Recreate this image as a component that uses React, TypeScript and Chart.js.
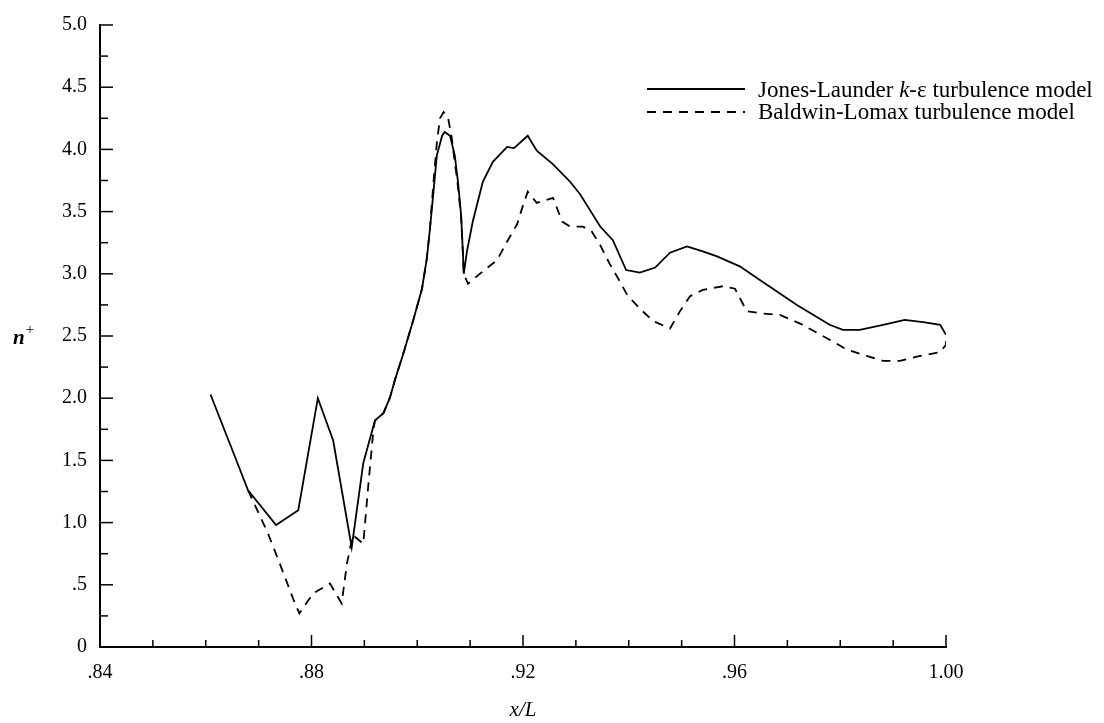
import React, { useEffect, useRef } from "react";
import { Chart, registerables } from "chart.js";

Chart.register(...registerables);

// ---------- data ----------
const jlX = [0.8609, 0.8646, 0.868, 0.8733, 0.8775, 0.8812, 0.8841, 0.8876, 0.8898, 0.892, 0.8936, 0.8948, 0.8958, 0.8973, 0.8992, 0.9009, 0.9018, 0.9024, 0.903, 0.9037, 0.9047, 0.9052, 0.9062, 0.9071, 0.9077, 0.9083, 0.9086, 0.9088, 0.9094, 0.9105, 0.9124, 0.9143, 0.917, 0.9183, 0.9209, 0.9226, 0.9257, 0.9289, 0.9308, 0.9327, 0.9346, 0.937, 0.9395, 0.9421, 0.945, 0.9478, 0.951, 0.954, 0.9567, 0.961, 0.9648, 0.9718, 0.978, 0.9805, 0.9837, 0.9881, 0.9922, 0.996, 0.9989, 1.0];
const jlY = [2.03, 1.63, 1.26, 0.98, 1.1, 2.0, 1.66, 0.8, 1.48, 1.82, 1.88, 2.0, 2.15, 2.35, 2.62, 2.88, 3.12, 3.36, 3.63, 3.95, 4.11, 4.14, 4.11, 3.95, 3.74, 3.47, 3.2, 3.0, 3.18, 3.42, 3.74, 3.9, 4.02, 4.01, 4.11, 3.99, 3.88, 3.74, 3.64, 3.51, 3.38, 3.27, 3.03, 3.01, 3.05, 3.17, 3.22, 3.18, 3.14, 3.06, 2.95, 2.75, 2.59, 2.55, 2.55, 2.59, 2.63, 2.61, 2.59, 2.51];

const blX = [0.868, 0.8718, 0.874, 0.8766, 0.8777, 0.8803, 0.8835, 0.8857, 0.8867, 0.8878, 0.8898, 0.8907, 0.8917, 0.892, 0.8936, 0.8948, 0.8958, 0.8973, 0.8992, 0.9009, 0.9018, 0.9024, 0.903, 0.9037, 0.9043, 0.905, 0.9058, 0.9065, 0.9071, 0.9077, 0.9083, 0.9086, 0.9088, 0.9096, 0.9124, 0.9151, 0.917, 0.9189, 0.92, 0.9209, 0.9226, 0.9257, 0.9274, 0.9289, 0.9313, 0.933, 0.9346, 0.9364, 0.9383, 0.9397, 0.9421, 0.9446, 0.9478, 0.9497, 0.9516, 0.954, 0.9578, 0.9601, 0.9623, 0.9654, 0.9686, 0.9724, 0.978, 0.9813, 0.985, 0.9881, 0.9913, 0.9951, 0.9989, 1.0, 1.0];
const blY = [1.26, 0.91, 0.67, 0.38, 0.27, 0.43, 0.51, 0.35, 0.67, 0.9, 0.83, 1.28, 1.74, 1.82, 1.88, 2.0, 2.15, 2.35, 2.62, 2.88, 3.12, 3.36, 3.7, 4.05, 4.25, 4.3, 4.26, 4.1, 3.9, 3.7, 3.45, 3.2, 3.0, 2.92, 3.02, 3.11, 3.26, 3.4, 3.55, 3.66, 3.57, 3.61, 3.42, 3.38, 3.38, 3.34, 3.23, 3.08, 2.94, 2.83, 2.72, 2.62, 2.56, 2.7, 2.82, 2.87, 2.9, 2.88, 2.7, 2.68, 2.67, 2.6, 2.47, 2.39, 2.34, 2.3, 2.3, 2.34, 2.37, 2.43, 2.52];

const xTickLabels = [0.84, 0.88, 0.92, 0.96, 1.0];
const yTickLabels = [0, 0.5, 1.0, 1.5, 2.0, 2.5, 3.0, 3.5, 4.0, 4.5, 5.0];
const xTickMarks = [0.84, 0.85, 0.86, 0.87, 0.88, 0.89, 0.9, 0.91, 0.92, 0.93, 0.94, 0.95, 0.96, 0.97, 0.98, 0.99, 1.0];
const yTickMarks = [0, 0.25, 0.5, 0.75, 1.0, 1.25, 1.5, 1.75, 2.0, 2.25, 2.5, 2.75, 3.0, 3.25, 3.5, 3.75, 4.0, 4.25, 4.5, 4.75, 5.0];

const seriesNames = ["Jones-Launder k-\u03b5 turbulence model", "Baldwin-Lomax turbulence model"];
const xTitle = "x/L";
const yTitle = "n";

const FONT = "'Liberation Serif', 'Times New Roman', serif";

const fmtX = (v: number) => (v >= 1 ? v.toFixed(2) : v.toFixed(2).replace(/^0/, ""));
const fmtY = (v: number) => (v === 0 ? "0" : v < 1 ? v.toFixed(1).replace(/^0/, "") : v.toFixed(1));

const decorPlugin = {
  id: "decor",
  afterDraw(chart: any) {
    const ctx = chart.ctx as CanvasRenderingContext2D;
    const xs = chart.scales.x;
    const ys = chart.scales.y;
    ctx.save();
    ctx.strokeStyle = "#000";
    ctx.lineWidth = 1.5;
    // inward tick marks
    yTickMarks.forEach((v, i) => {
      const py = ys.getPixelForValue(v);
      const len = i % 2 === 0 ? 13 : 8;
      ctx.beginPath();
      ctx.moveTo(xs.left, py);
      ctx.lineTo(xs.left + len, py);
      ctx.stroke();
    });
    xTickMarks.forEach((v, i) => {
      const px = xs.getPixelForValue(v);
      const len = i % 4 === 0 ? 12 : 7;
      ctx.beginPath();
      ctx.moveTo(px, ys.bottom);
      ctx.lineTo(px, ys.bottom - len);
      ctx.stroke();
    });

    ctx.fillStyle = "#000";
    ctx.textBaseline = "alphabetic";
    // x title
    ctx.font = `italic 21px ${FONT}`;
    ctx.textAlign = "center";
    ctx.fillText(xTitle, (xs.left + xs.right) / 2, 716);
    // y title n+
    ctx.textAlign = "left";
    ctx.font = `italic bold 21px ${FONT}`;
    ctx.fillText(yTitle, 13, 344);
    const nw = ctx.measureText(yTitle).width;
    ctx.font = `15px ${FONT}`;
    ctx.fillText("+", 13 + nw + 1, 334);

    // legend
    const lx0 = 647;
    const lx1 = 745;
    const tx = 758;
    const fs = 23;
    const rows = [
      { y: 89, base: 97, dash: [] as number[] },
      { y: 112, base: 119, dash: [9, 7] },
    ];
    ctx.lineWidth = 1.8;
    rows.forEach((r, i) => {
      ctx.setLineDash(r.dash);
      ctx.beginPath();
      ctx.moveTo(lx0, r.y);
      ctx.lineTo(lx1, r.y);
      ctx.stroke();
      ctx.setLineDash([]);
      const name = seriesNames[i];
      if (i === 0) {
        const kIdx = name.indexOf(" k-") + 1;
        const a = name.slice(0, kIdx);
        const b = name.slice(kIdx + 1);
        ctx.font = `${fs}px ${FONT}`;
        ctx.fillText(a, tx, r.base);
        let x = tx + ctx.measureText(a).width;
        ctx.font = `italic ${fs}px ${FONT}`;
        ctx.fillText("k", x, r.base);
        x += ctx.measureText("k").width;
        ctx.font = `${fs}px ${FONT}`;
        ctx.fillText(b, x, r.base);
      } else {
        ctx.font = `${fs}px ${FONT}`;
        ctx.fillText(name, tx, r.base);
      }
    });
    ctx.restore();
  },
};

export default function App() {
  const ref = useRef<HTMLCanvasElement | null>(null);
  useEffect(() => {
    if (!ref.current) return;
    const chart = new Chart(ref.current, {
      type: "line",
      data: {
        datasets: [
          {
            label: seriesNames[0],
            data: jlX.map((x, i) => ({ x, y: jlY[i] })),
            borderColor: "#000",
            borderWidth: 1.8,
            pointRadius: 0,
            tension: 0,
            fill: false,
          },
          {
            label: seriesNames[1],
            data: blX.map((x, i) => ({ x, y: blY[i] })),
            borderColor: "#000",
            borderWidth: 1.8,
            borderDash: [9, 7],
            pointRadius: 0,
            tension: 0,
            fill: false,
          },
        ],
      },
      options: {
        animation: false,
        responsive: false,
        devicePixelRatio: 1,
        layout: { padding: { left: 0, right: 158, top: 22, bottom: 0 } },
        plugins: { legend: { display: false }, tooltip: { enabled: false } },
        scales: {
          x: {
            type: "linear",
            min: 0.84,
            max: 1.0,
            grid: { display: false, drawTicks: false },
            border: { display: true, color: "#000", width: 2 },
            ticks: {
              color: "#000",
              font: { family: FONT, size: 20 },
              padding: 14,
              maxRotation: 0,
              autoSkip: false,
              callback: (v: any) => fmtX(Number(v)),
            },
            afterBuildTicks: (s: any) => {
              s.ticks = xTickLabels.map((v) => ({ value: v }));
            },
            afterFit: (s: any) => {
              s.height = 76;
            },
          },
          y: {
            type: "linear",
            min: 0,
            max: 5,
            grid: { display: false, drawTicks: false },
            border: { display: true, color: "#000", width: 2 },
            ticks: {
              color: "#000",
              font: { family: FONT, size: 20 },
              padding: 13,
              autoSkip: false,
              callback: (v: any) => fmtY(Number(v)),
            },
            afterBuildTicks: (s: any) => {
              s.ticks = yTickLabels.map((v) => ({ value: v }));
            },
            afterFit: (s: any) => {
              s.width = 100;
            },
          },
        },
      },
      plugins: [decorPlugin],
    } as any);
    return () => chart.destroy();
  }, []);
  return (
    <div style={{ position: "absolute", left: 0, top: 0, width: 1104, height: 723, background: "#fff" }}>
      <canvas ref={ref} width={1104} height={723} style={{ display: "block" }} />
    </div>
  );
}
